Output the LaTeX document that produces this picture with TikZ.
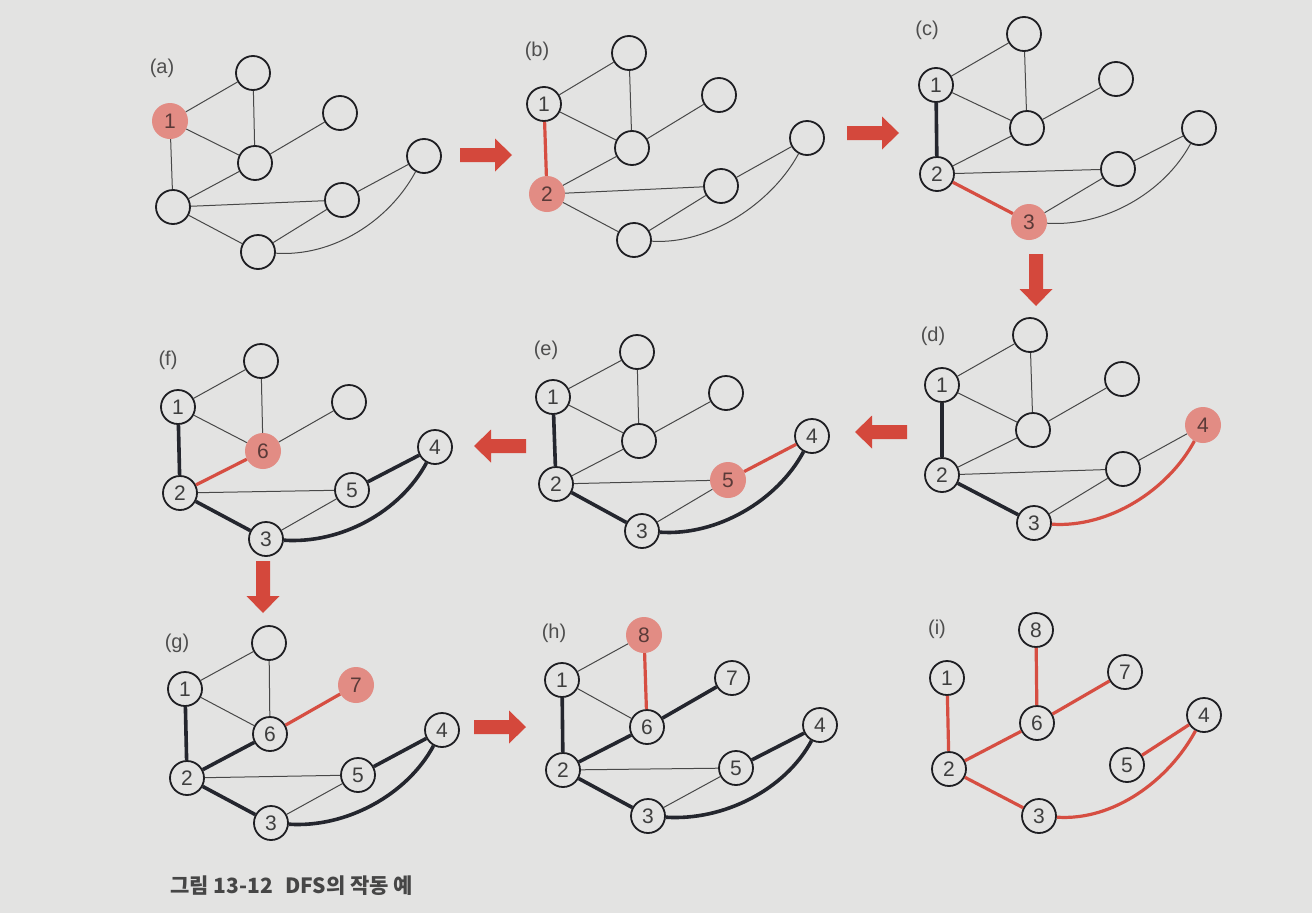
\documentclass[tikz,border=0pt]{standalone}
\usepackage{fontspec}
\setmainfont{Liberation Sans}
\newfontfamily\krfont{Noto Sans CJK KR}
\definecolor{bgcol}{RGB}{227,227,226}
\definecolor{nodered}{RGB}{226,140,132}
\definecolor{redline}{RGB}{214,78,66}
\definecolor{arrowred}{RGB}{212,72,60}
\definecolor{darkline}{RGB}{36,38,46}
\definecolor{thincol}{RGB}{72,72,72}
\definecolor{nodeline}{RGB}{30,30,34}
\definecolor{numcol}{RGB}{62,62,62}
\definecolor{rednum}{RGB}{90,58,56}
\definecolor{labcol}{RGB}{78,78,78}
\definecolor{capcol}{RGB}{70,70,70}
\tikzset{
  vn/.style={circle, draw=nodeline, line width=1.8pt, minimum size=34pt, inner sep=0pt,
    text=numcol, font=\fontsize{21}{24}\selectfont},
  rn/.style={circle, fill=nodered, minimum size=36pt, inner sep=0pt,
    text=rednum, font=\fontsize{21}{24}\selectfont},
  te/.style={draw=thincol, line width=1pt},
  bk/.style={draw=darkline, line width=3.6pt},
  rd/.style={draw=redline, line width=3.2pt},
  lab/.style={font=\fontsize{20}{24}\selectfont, text=labcol},
  barrow/.pic={\fill[arrowred] (-26,-7) -- (9,-7) -- (9,-16.5) -- (26,0) -- (9,16.5) -- (9,7) -- (-26,7) -- cycle;}
}
\newcommand\thinedges[1]{%
  \draw[te] (#11) -- (#18);
  \draw[te] (#11) -- (#16);
  \draw[te] (#12) -- (#15);
  \draw[te] (#13) -- (#15);
}
\newcommand\treeedges[8]{%
  \draw[#2] (#11) -- (#12);
  \draw[#3] (#12) -- (#13);
  \draw[#4] (#13) .. controls +(75,5) and +(-35,65) .. (#14);
  \draw[#5] (#14) -- (#15);
  \draw[#6] (#12) -- (#16);
  \draw[#7] (#16) -- (#17);
  \draw[#8] (#16) -- (#18);
}
\begin{document}
\begin{tikzpicture}[x=1pt, y=-1pt]
\fill[bgcol] (0,0) rectangle (1312,913);
\useasboundingbox (0,0) rectangle (1312,913);

% (a)
\node[lab] (la) at (162,68) {(a)};
\node[rn] (a1) at (170,121) {1};
\node[vn] (a8) at (253,73) {};
\node[vn] (a7) at (340,113) {};
\node[vn] (a6) at (255,163) {};
\node[vn] (a4) at (424,156) {};
\node[vn] (a5) at (342,200) {};
\node[vn] (a2) at (173,207) {};
\node[vn] (a3) at (258,252) {};
\thinedges{a}
\treeedges{a}{te}{te}{te}{te}{te}{te}{te}

% (b)
\node[lab] (lb) at (537,51) {(b)};
\node[vn] (b1) at (544,104) {1};
\node[vn] (b8) at (629,53) {};
\node[vn] (b7) at (719,95) {};
\node[vn] (b6) at (632,148) {};
\node[vn] (b4) at (807,138) {};
\node[vn] (b5) at (721,186) {};
\node[rn] (b2) at (547,194) {2};
\node[vn] (b3) at (634,240) {};
\thinedges{b}
\treeedges{b}{rd}{te}{te}{te}{te}{te}{te}

% (c)
\node[lab] (lc) at (927,30) {(c)};
\node[vn] (c1) at (936,85) {1};
\node[vn] (c8) at (1024,34) {};
\node[vn] (c7) at (1116,79) {};
\node[vn] (c6) at (1027,128) {};
\node[vn] (c4) at (1199,128) {};
\node[vn] (c5) at (1118,169) {};
\node[vn] (c2) at (937,174) {2};
\node[rn] (c3) at (1029,222) {3};
\thinedges{c}
\treeedges{c}{bk}{rd}{te}{te}{te}{te}{te}

% (d)
\node[lab] (ld) at (933,336) {(d)};
\node[vn] (d1) at (942,385) {1};
\node[vn] (d8) at (1030,335) {};
\node[vn] (d7) at (1122,379) {};
\node[vn] (d6) at (1033,430) {};
\node[rn] (d4) at (1203,425) {4};
\node[vn] (d5) at (1123,469) {};
\node[vn] (d2) at (942,475) {2};
\node[vn] (d3) at (1034,523) {3};
\thinedges{d}
\treeedges{d}{bk}{bk}{rd}{te}{te}{te}{te}

% (e)
\node[lab] (le) at (546,350) {(e)};
\node[vn] (e1) at (553,397) {1};
\node[vn] (e8) at (637,352) {};
\node[vn] (e7) at (726,393) {};
\node[vn] (e6) at (639,441) {};
\node[vn] (e4) at (812,436) {4};
\node[rn] (e5) at (728,480) {5};
\node[vn] (e2) at (556,484) {2};
\node[vn] (e3) at (642,531) {3};
\thinedges{e}
\treeedges{e}{bk}{bk}{bk}{rd}{te}{te}{te}

% (f)
\node[lab] (lf) at (168,360) {(f)};
\node[vn] (f1) at (178,407) {1};
\node[vn] (f8) at (261,361) {};
\node[vn] (f7) at (349,402) {};
\node[rn] (f6) at (263,451) {6};
\node[vn] (f4) at (435,447) {4};
\node[vn] (f5) at (352,490) {5};
\node[vn] (f2) at (180,493) {2};
\node[vn] (f3) at (266,539) {3};
\thinedges{f}
\treeedges{f}{bk}{bk}{bk}{bk}{rd}{te}{te}

% (g)
\node[lab] (lg) at (177,643) {(g)};
\node[vn] (g1) at (185,689) {1};
\node[vn] (g8) at (269,643) {};
\node[rn] (g7) at (356,685) {7};
\node[vn] (g6) at (270,734) {6};
\node[vn] (g4) at (442,730) {4};
\node[vn] (g5) at (358,775) {5};
\node[vn] (g2) at (187,778) {2};
\node[vn] (g3) at (271,823) {3};
\thinedges{g}
\treeedges{g}{bk}{bk}{bk}{bk}{bk}{rd}{te}

% (h)
\node[lab] (lh) at (554,633) {(h)};
\node[vn] (h1) at (562,680) {1};
\node[rn] (h8) at (644,635) {8};
\node[vn] (h7) at (732,678) {7};
\node[vn] (h6) at (647,727) {6};
\node[vn] (h4) at (820,725) {4};
\node[vn] (h5) at (736,768) {5};
\node[vn] (h2) at (563,770) {2};
\node[vn] (h3) at (648,816) {3};
\thinedges{h}
\treeedges{h}{bk}{bk}{bk}{bk}{bk}{bk}{rd}

% (i)
\node[lab] (li) at (937,629) {(i)};
\node[vn] (i1) at (947,678) {1};
\node[vn] (i8) at (1036,630) {8};
\node[vn] (i7) at (1125,672) {7};
\node[vn] (i6) at (1037,723) {6};
\node[vn] (i4) at (1204,715) {4};
\node[vn] (i5) at (1127,765) {5};
\node[vn] (i2) at (949,769) {2};
\node[vn] (i3) at (1039,816) {3};
\treeedges{i}{rd}{rd}{rd}{rd}{rd}{rd}{rd}

% step arrows
\pic at (486,155) {barrow};
\pic at (873,133) {barrow};
\pic[rotate=-90] at (1036,280) {barrow};
\pic[rotate=180] at (881,432) {barrow};
\pic[rotate=180] at (500,446) {barrow};
\pic[rotate=-90] at (263,587) {barrow};
\pic at (500,727) {barrow};

% caption
\node[anchor=base west, inner sep=0pt, text=capcol, font=\krfont\bfseries\fontsize{21}{24}\selectfont] (cap) at (170,893) {그림 13-12\hspace{0.6em}DFS의 작동 예};
\end{tikzpicture}
\end{document}
